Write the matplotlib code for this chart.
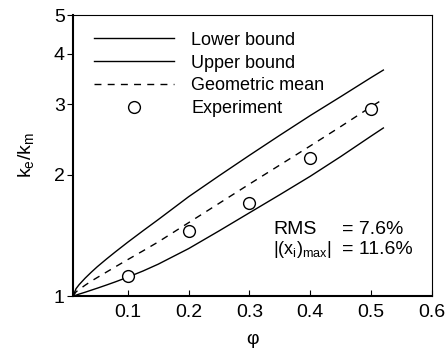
import matplotlib
matplotlib.use('Agg')
import matplotlib.pyplot as plt
from matplotlib.ticker import FixedLocator, NullLocator, FixedFormatter

plt.rcParams['font.family'] = ['Liberation Sans', 'DejaVu Sans']
plt.rcParams['mathtext.fontset'] = 'custom'
plt.rcParams['mathtext.rm'] = 'Liberation Sans'

# values
phi = [0.01, 0.015, 0.02, 0.03, 0.04, 0.05, 0.065, 0.08, 0.1, 0.125, 0.15,
       0.2, 0.25, 0.3, 0.35, 0.4, 0.45, 0.5, 0.52]
lower = [1.000, 1.005, 1.011, 1.022, 1.034, 1.046, 1.065, 1.085, 1.114, 1.154, 1.200,
         1.312, 1.452, 1.611, 1.787, 1.986, 2.223, 2.500, 2.618]
upper = [1.000, 1.043, 1.067, 1.108, 1.146, 1.183, 1.236, 1.289, 1.361, 1.453, 1.549,
         1.766, 1.991, 2.239, 2.512, 2.812, 3.133, 3.496, 3.648]
geo_mean = [1.000, 1.024, 1.038, 1.064, 1.089, 1.112, 1.147, 1.183, 1.232, 1.295, 1.363,
            1.522, 1.700, 1.899, 2.118, 2.363, 2.640, 2.957, 3.090]

phi_exp = [0.1, 0.2, 0.3, 0.4, 0.5]
k_exp = [1.12, 1.45, 1.70, 2.20, 2.92]

x_ticks = [0.1, 0.2, 0.3, 0.4, 0.5, 0.6]
y_ticks = [1, 2, 3, 4, 5]

fig = plt.figure(figsize=(4.46, 3.54), dpi=100)
ax = fig.add_axes([0.1637, 0.1638, 0.805, 0.7938])

ax.plot(phi, lower, color='black', lw=1.0, label='Lower bound')
ax.plot(phi, upper, color='black', lw=1.0, label='Upper bound')
ax.plot(phi, geo_mean, color='black', lw=1.0, dashes=(5, 4.5), label='Geometric mean')
ax.plot(phi_exp, k_exp, 'o', ms=8.5, mfc='white', mec='black', mew=1.0,
        label='Experiment')

ax.set_yscale('log')
ax.set_xlim(0.01, 0.6)
ax.set_ylim(1, 5)
ax.xaxis.set_major_locator(FixedLocator(x_ticks))
ax.xaxis.set_major_formatter(FixedFormatter([str(t) for t in x_ticks]))
ax.yaxis.set_major_locator(FixedLocator(y_ticks))
ax.yaxis.set_major_formatter(FixedFormatter([str(t) for t in y_ticks]))
ax.yaxis.set_minor_locator(NullLocator())

ax.tick_params(axis='x', direction='in', length=4.5, width=0.8, labelsize=14, pad=6)
ax.tick_params(axis='y', direction='out', length=4.5, width=0.8, labelsize=14, pad=1.5)

for side in ['left', 'bottom']:
    ax.spines[side].set_linewidth(1.5)
for side in ['top', 'right']:
    ax.spines[side].set_linewidth(0.8)

ax.set_xlabel('φ', fontsize=14, labelpad=7)
ax.set_ylabel(r'k$_\mathregular{e}$/k$_\mathregular{m}$', fontsize=14, labelpad=12)

ax.legend(loc='upper left', bbox_to_anchor=(0.039, 0.966), frameon=False,
          fontsize=13, handlelength=4.43, handletextpad=0.94, labelspacing=0.32,
          borderaxespad=0.0)

ax.text(0.557, 0.235, 'RMS', transform=ax.transAxes, fontsize=14, va='center')
ax.text(0.749, 0.235, '= 7.6%', transform=ax.transAxes, fontsize=14, va='center')
ax.text(0.557, 0.167, r'|(x$_\mathregular{i}$)$_\mathregular{max}$|', transform=ax.transAxes,
        fontsize=13, va='center')
ax.text(0.749, 0.167, '= 11.6%', transform=ax.transAxes, fontsize=14, va='center')

fig.savefig('out.png', dpi=100)
